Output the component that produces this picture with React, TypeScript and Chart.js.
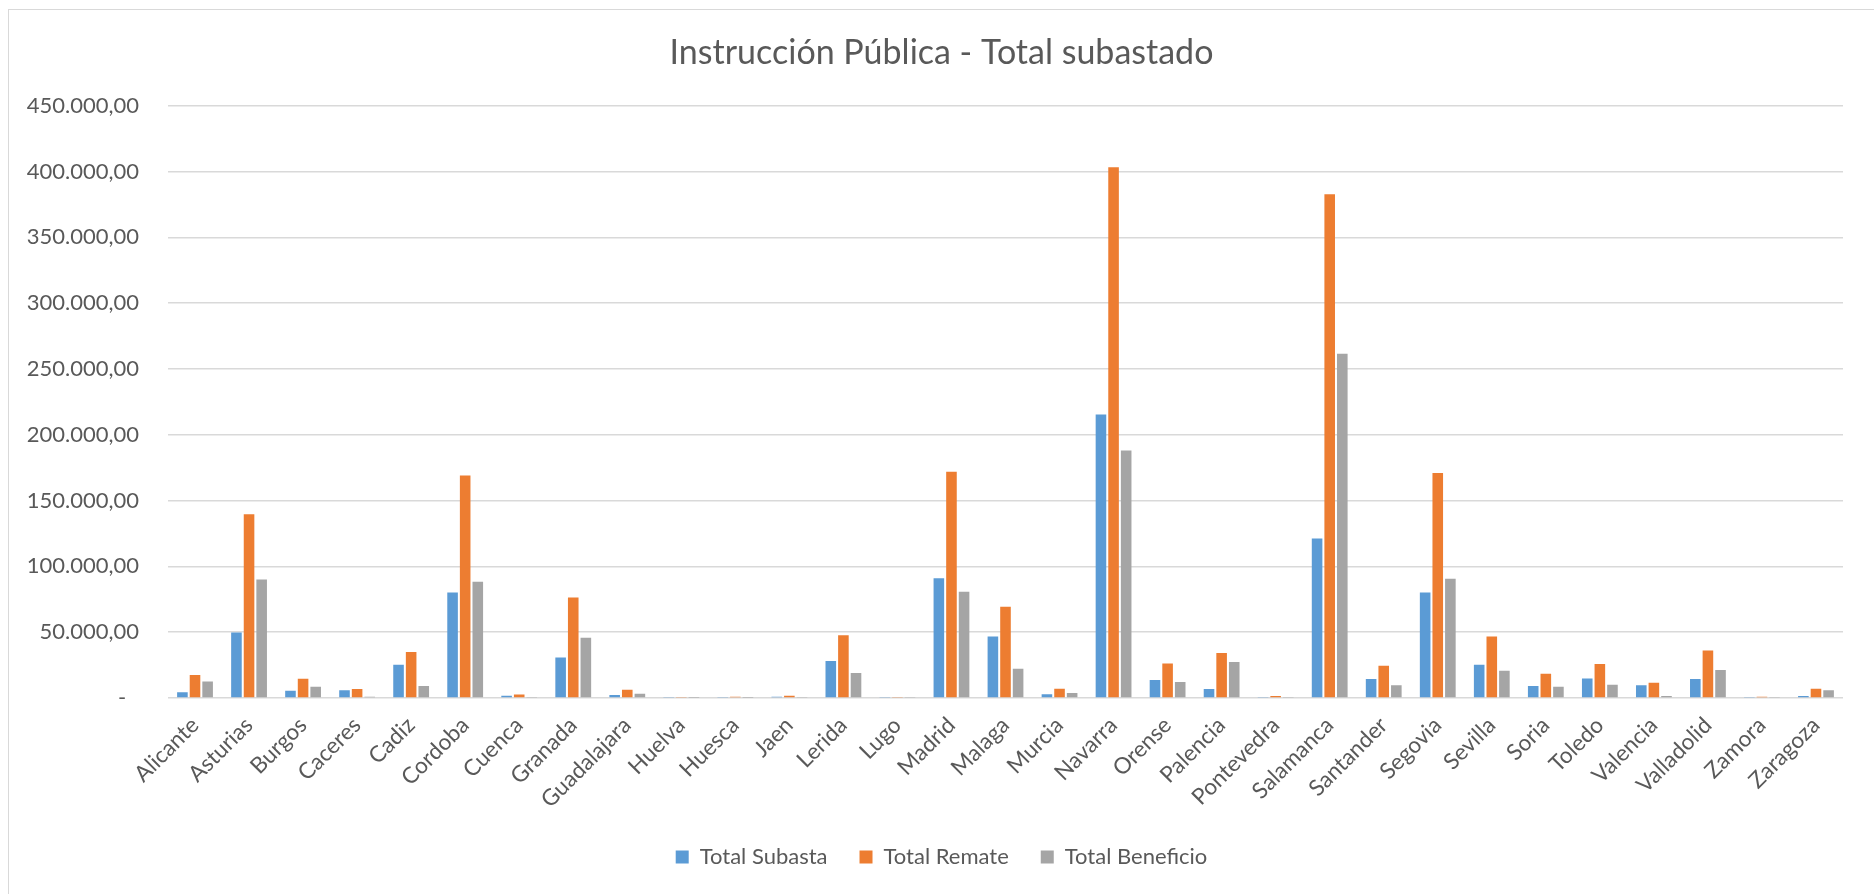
import React, { useEffect, useRef } from "react";
import { Chart, registerables } from "chart.js";

Chart.register(...registerables);

const chartTitle = "Instrucción Pública - Total subastado";

const categories = [
  "Alicante", "Asturias", "Burgos", "Caceres", "Cadiz", "Cordoba", "Cuenca",
  "Granada", "Guadalajara", "Huelva", "Huesca", "Jaen", "Lerida", "Lugo",
  "Madrid", "Malaga", "Murcia", "Navarra", "Orense", "Palencia", "Pontevedra",
  "Salamanca", "Santander", "Segovia", "Sevilla", "Soria", "Toledo", "Valencia",
  "Valladolid", "Zamora", "Zaragoza",
];

const totalSubasta = [
  4300, 49700, 5500, 5800, 25300, 80100, 1700,
  30700, 2300, 300, 300, 1000, 28200, 300,
  91000, 46700, 2800, 215400, 13700, 6800, 800,
  121200, 14500, 80100, 25300, 9100, 14900, 9600,
  14500, 800, 1500,
];

const totalRemate = [
  17500, 139700, 14700, 6800, 35000, 169000, 2700,
  76300, 6300, 300, 1000, 1700, 47600, 300,
  172000, 69300, 7100, 403400, 26300, 34200, 1500,
  382800, 24600, 171000, 46700, 18500, 25900, 11600,
  36000, 1000, 7100,
];

const totalBeneficio = [
  12600, 90000, 8600, 1000, 9100, 88300, 300,
  45700, 3300, 200, 200, 400, 19000, 300,
  80700, 22300, 3800, 188000, 12200, 27400, 300,
  261500, 9600, 90600, 20800, 8600, 10100, 1500,
  21300, 300, 5800,
];

const seriesNames = ["Total Subasta", "Total Remate", "Total Beneficio"];
const seriesColors = ["#5B9BD5", "#ED7D31", "#A5A5A5"];

const yMax = 450000;
const yStep = 50000;

const FONT = "Lato, 'Open Sans', sans-serif";
const TEXT = "#595959";
const GRID = "#D9D9D9";

function formatTick(v: number): string {
  if (v === 0) return "-\u2007";
  const s = Math.round(v)
    .toString()
    .replace(/\B(?=(\d{3})+(?!\d))/g, ".");
  return s + ",00";
}

export default function App() {
  const canvasRef = useRef<HTMLCanvasElement | null>(null);

  useEffect(() => {
    if (!canvasRef.current) return;
    const values = [totalSubasta, totalRemate, totalBeneficio];
    const chart = new Chart(canvasRef.current, {
      type: "bar",
      data: {
        labels: categories,
        datasets: seriesNames.map((name, i) => ({
          label: name,
          data: values[i],
          backgroundColor: seriesColors[i],
          borderWidth: 0,
          barPercentage: 0.84,
          categoryPercentage: 0.7,
        })),
      },
      options: {
        animation: false,
        responsive: false,
        maintainAspectRatio: false,
        layout: { padding: { left: 0, right: 0, top: 0, bottom: 16 } },
        plugins: {
          title: {
            display: true,
            text: chartTitle,
            color: TEXT,
            font: { family: FONT, size: 34, weight: "normal" },
            padding: { top: 23, bottom: 32 },
          },
          legend: {
            position: "bottom",
            labels: {
              color: TEXT,
              font: { family: FONT, size: 22 },
              boxWidth: 13,
              boxHeight: 13,
              padding: 32,
            },
          },
          tooltip: { enabled: false },
        },
        scales: {
          x: {
            grid: { display: false },
            border: { display: false },
            ticks: {
              color: TEXT,
              font: { family: FONT, size: 22.5 },
              maxRotation: 45,
              minRotation: 45,
              autoSkip: false,
              padding: 6,
            },
            afterFit: (scale: any) => {
              scale.height = 116;
            },
          },
          y: {
            min: 0,
            max: yMax,
            border: { display: false },
            grid: { color: GRID, lineWidth: 1.5, drawTicks: false },
            ticks: {
              stepSize: yStep,
              color: TEXT,
              font: { family: FONT, size: 22 },
              padding: 29,
              callback: (v: any) => formatTick(Number(v)),
            },
            afterFit: (scale: any) => {
              scale.width = 159;
            },
          },
          spacer: {
            type: "linear",
            position: "right",
            display: true,
            grid: { display: false, drawTicks: false },
            border: { display: false },
            ticks: { display: false },
            afterFit: (scale: any) => {
              scale.width = 31;
            },
          },
        },
      },
    });
    return () => chart.destroy();
  }, []);

  return (
    <div
      style={{
        position: "absolute",
        left: 8,
        top: 9,
        width: 1866,
        height: 885,
        borderLeft: "1px solid #D9D9D9",
        borderTop: "1px solid #D9D9D9",
        background: "#fff",
        overflow: "hidden",
      }}
    >
      <canvas ref={canvasRef} width={1865} height={884} style={{ display: "block" }} />
    </div>
  );
}
